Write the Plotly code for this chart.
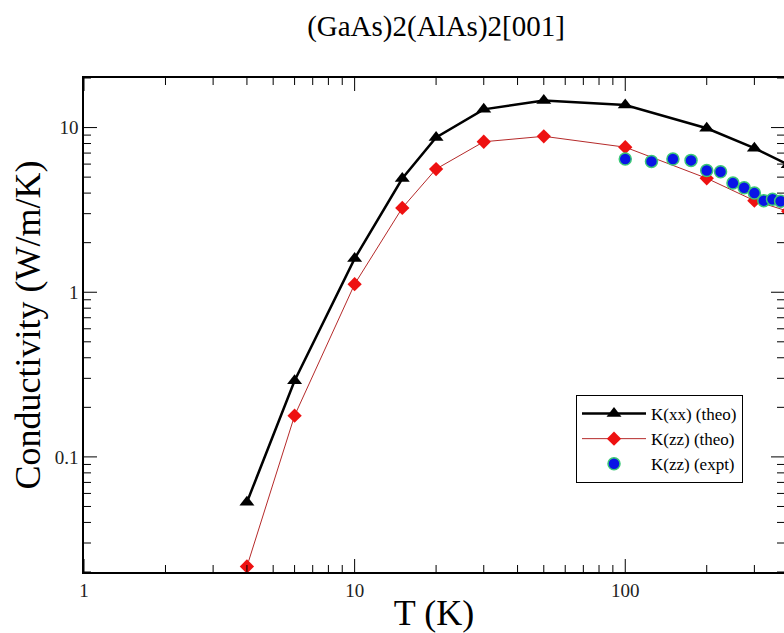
import math
import plotly.graph_objects as go

# Temperatures (K) and thermal conductivities (W/m/K)
t_theo = [4, 6, 10, 15, 20, 30, 50, 100, 200, 300, 400]
k_xx_theo = [0.053, 0.29, 1.6, 4.9, 8.7, 12.9, 14.6, 13.7, 9.9, 7.5, 5.95]
k_zz_theo = [0.0216, 0.178, 1.12, 3.25, 5.6, 8.2, 8.85, 7.6, 4.92, 3.6, 3.1]

t_expt = [100, 125, 150, 175, 200, 225, 250, 275, 300, 325, 350, 375]
k_zz_expt = [6.44, 6.23, 6.44, 6.32, 5.49, 5.39, 4.60, 4.31, 4.00, 3.60, 3.67, 3.57]

# Axis ticks
x_major = [1, 10, 100]
x_major_text = ["1", "10", "100"]
x_minor = [2, 3, 4, 5, 6, 7, 8, 9, 20, 30, 40, 50, 60, 70, 80, 90, 200, 300]
y_major = [0.1, 1, 10]
y_major_text = ["0.1", "1", "10"]
y_minor = [0.02, 0.03, 0.04, 0.05, 0.06, 0.07, 0.08, 0.09,
           0.2, 0.3, 0.4, 0.5, 0.6, 0.7, 0.8, 0.9,
           2, 3, 4, 5, 6, 7, 8, 9, 20]

x_range = [1, 386]
y_range = [0.02, 20]

SERIF = "Liberation Serif, Times New Roman, serif"
MAJOR_LEN, MINOR_LEN = 13, 7

fig = go.Figure()
fig.add_trace(go.Scatter(
    x=t_theo, y=k_xx_theo, mode="lines+markers", name="K(xx) (theo)",
    line=dict(color="black", width=2.5),
    marker=dict(symbol="triangle-up", size=13, color="black"),
))
fig.add_trace(go.Scatter(
    x=t_theo, y=k_zz_theo, mode="lines+markers", name="K(zz) (theo)",
    line=dict(color="#b52a2a", width=1),
    marker=dict(symbol="diamond", size=11, color="#ee1111"),
))
fig.add_trace(go.Scatter(
    x=t_expt, y=k_zz_expt, mode="markers", name="K(zz) (expt)",
    marker=dict(symbol="circle", size=12, color="#0a14e6",
                line=dict(color="#3cc878", width=1.5)),
))

# Inward-pointing frame ticks on all four sides, sized in pixels
tick_line = dict(color="black", width=1)
for vals, length in ((x_major, MAJOR_LEN), (x_minor, MINOR_LEN)):
    for v in vals:
        for anchor, sign in ((0, 1), (1, -1)):
            fig.add_shape(type="line", xref="x", yref="paper", x0=v, x1=v,
                          ysizemode="pixel", yanchor=anchor, y0=0, y1=sign * length,
                          line=tick_line, layer="above")
for vals, length in ((y_major, MAJOR_LEN), (y_minor, MINOR_LEN)):
    for v in vals:
        for anchor, sign in ((0, 1), (1, -1)):
            fig.add_shape(type="line", xref="paper", yref="y", y0=v, y1=v,
                          xsizemode="pixel", xanchor=anchor, x0=0, x1=sign * length,
                          line=tick_line, layer="above")

axis_common = dict(ticks="", showgrid=False, zeroline=False, tickmode="array",
                   automargin=False,
                   tickfont=dict(family=SERIF, size=19, color="#222"))

fig.update_layout(
    width=784, height=633,
    margin=dict(l=84, r=0, t=78, b=61),
    paper_bgcolor="white", plot_bgcolor="white",
    title=dict(text="(GaAs)2(AlAs)2[001]", x=436 / 784, xref="container",
               xanchor="center", y=1 - 26 / 633, yanchor="middle",
               font=dict(family=SERIF, size=29, color="black")),
    xaxis=dict(type="log", range=[math.log10(x_range[0]), math.log10(x_range[1])],
               tickvals=x_major, ticktext=x_major_text,
               showline=True, linecolor="black", linewidth=1.5, mirror=True,
               title=dict(text="T (K)", font=dict(family=SERIF, size=36, color="black"),
                          standoff=6),
               **axis_common),
    yaxis=dict(type="log", range=[math.log10(y_range[0]), math.log10(y_range[1])],
               tickvals=y_major, ticktext=y_major_text,
               showline=True, linecolor="black", linewidth=1.5, mirror=False,
               title=dict(text="Conductivity (W/m/K)",
                          font=dict(family=SERIF, size=36, color="black"),
                          standoff=3),
               **axis_common),
    legend=dict(x=(576 - 84) / 700, y=(572 - 395) / 494, xanchor="left", yanchor="top",
                bordercolor="black", borderwidth=1, bgcolor="white",
                font=dict(family=SERIF, size=17, color="black"),
                itemwidth=64),
    showlegend=True,
)

fig.write_html("out.html")
